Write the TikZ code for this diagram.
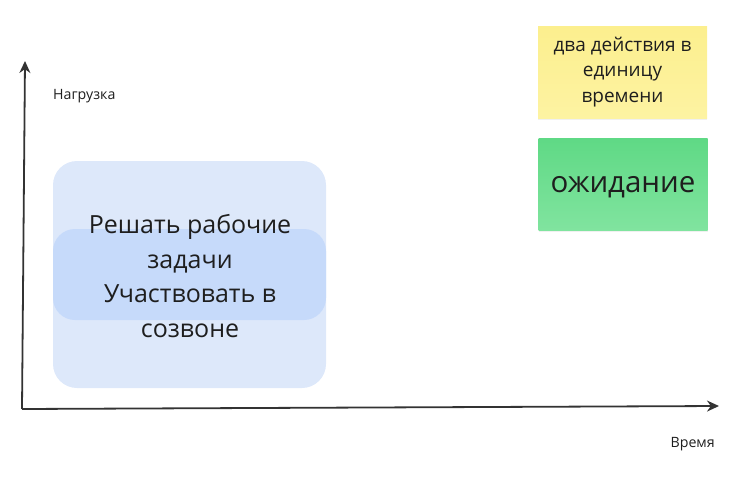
\documentclass[tikz,border=0pt]{standalone}
\usepackage{fontspec}
\setmainfont{Open Sans}
\usetikzlibrary{arrows.meta,shadows}
\definecolor{txt}{HTML}{1E1E1E}
\definecolor{axis}{HTML}{333333}
\definecolor{outerblue}{HTML}{DDE8FA}
\definecolor{innerblue}{HTML}{C6DAFA}
\definecolor{stickyY}{HTML}{FDF3A2}
\definecolor{stickyYtop}{HTML}{FCEF8E}
\definecolor{stickyG}{HTML}{6ADF8E}
\definecolor{stickyGtop}{HTML}{5FD985}
\tikzset{
  axisline/.style={draw=axis, line width=1.8pt, -{Stealth[length=12pt,width=11pt]}},
  axlabel/.style={text=txt, font=\fontsize{14.2}{16}\selectfont, inner sep=0pt},
  sticky/.style={minimum width=169pt, minimum height=92pt, inner sep=0pt, align=center, text=txt,
    drop shadow={shadow xshift=0pt, shadow yshift=-2pt, opacity=0.12}},
}
\begin{document}
\begin{tikzpicture}[x=1pt,y=-1pt]
\useasboundingbox (0,0) rectangle (740,482);
% background boxes
\node (outer) [fill=outerblue, rounded corners=24pt, minimum width=273pt, minimum height=227pt, inner sep=0pt] at (189.5,274.5) {};
\node (inner) [fill=innerblue, rounded corners=22pt, minimum width=273pt, minimum height=91pt, inner sep=0pt] at (189.5,274.5) {};
\node (tasks) [text=txt, align=center, font=\fontsize{25}{34.5}\selectfont, inner sep=0pt] at (190,276) {Решать рабочие\\задачи\\Участвовать в\\созвоне};
% axes
\coordinate (origin) at (22,409);
\coordinate (ytop) at (25,61);
\coordinate (xend) at (719,406);
\draw[axisline] (origin) -- (ytop);
\draw[axisline] (origin) -- (xend);
\node (ylab) [axlabel, anchor=west] at (53,96) {Нагрузка};
\node (xlab) [axlabel, anchor=east] at (715,444) {Время};
% sticky notes
\node (yellow) [sticky, top color=stickyYtop, bottom color=stickyY, font=\fontsize{19}{25.5}\selectfont] at (622.5,72) {два действия в\\единицу\\времени};
\node (green) [sticky, top color=stickyGtop, bottom color=stickyG!85!white, font=\fontsize{29.5}{34}\selectfont] at (623,184) {\raisebox{-3.5pt}[\height][\depth]{ожидание}};
\end{tikzpicture}
\end{document}
